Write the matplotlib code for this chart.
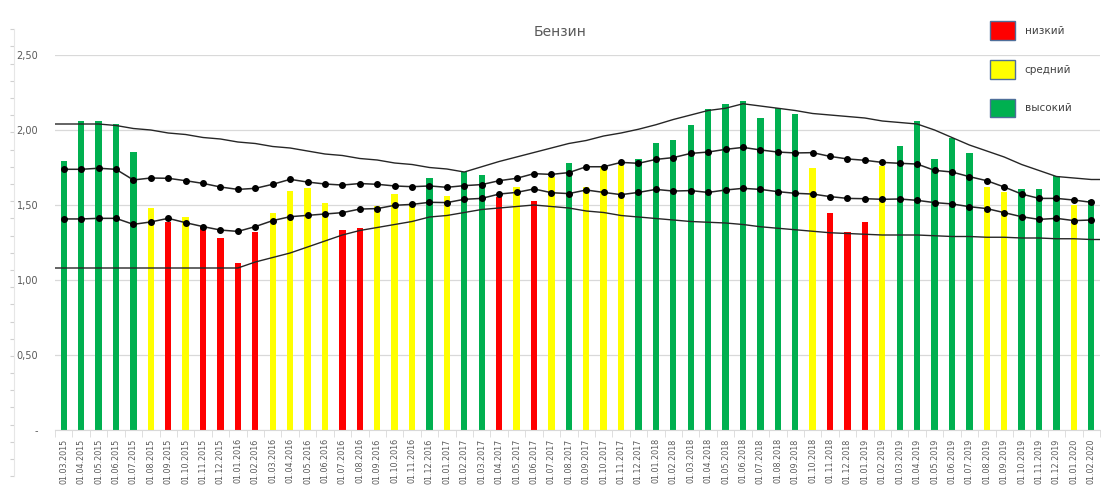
import numpy as np
import matplotlib
matplotlib.use("Agg")
import matplotlib.pyplot as plt
from matplotlib.patches import Patch
from matplotlib.ticker import FuncFormatter, FixedLocator

# months 01.03.2015 .. 01.02.2020
months = [f"01.{m:02d}.{y}" for y in range(2015, 2021) for m in range(1, 13)]
months = months[2:62]

price = [1.79, 2.06, 2.06, 2.04, 1.85, 1.48, 1.385, 1.42, 1.35, 1.28,
         1.113, 1.318, 1.447, 1.59, 1.61, 1.513, 1.335, 1.347, 1.495, 1.575,
         1.50, 1.678, 1.558, 1.722, 1.702, 1.551, 1.618, 1.527, 1.687, 1.782,
         1.618, 1.76, 1.765, 1.807, 1.911, 1.933, 2.036, 2.14, 2.171, 2.19,
         2.078, 2.149, 2.107, 1.747, 1.447, 1.32, 1.384, 1.762, 1.896, 2.062,
         1.807, 1.947, 1.849, 1.618, 1.587, 1.609, 1.609, 1.696, 1.50, 1.533]

# 0 - низкий, 1 - средний, 2 - высокий
level = [2, 2, 2, 2, 2, 1, 0, 1, 0, 0,
         0, 0, 1, 1, 1, 1, 0, 0, 1, 1,
         1, 2, 1, 2, 2, 0, 1, 0, 1, 2,
         1, 1, 1, 2, 2, 2, 2, 2, 2, 2,
         2, 2, 2, 1, 0, 0, 0, 1, 2, 2,
         2, 2, 2, 1, 1, 2, 2, 2, 1, 2]

upper_dots = [1.738, 1.738, 1.745, 1.738, 1.667, 1.68, 1.678, 1.662, 1.644, 1.62,
              1.604, 1.611, 1.638, 1.671, 1.653, 1.64, 1.633, 1.643, 1.638, 1.627,
              1.622, 1.627, 1.618, 1.629, 1.636, 1.662, 1.678, 1.709, 1.704, 1.716,
              1.755, 1.755, 1.784, 1.778, 1.804, 1.816, 1.844, 1.853, 1.871, 1.884,
              1.867, 1.853, 1.847, 1.849, 1.824, 1.807, 1.798, 1.784, 1.778, 1.773,
              1.731, 1.72, 1.689, 1.662, 1.62, 1.573, 1.544, 1.544, 1.533, 1.518]

lower_dots = [1.407, 1.407, 1.411, 1.411, 1.371, 1.387, 1.411, 1.382, 1.356, 1.333,
              1.324, 1.356, 1.396, 1.422, 1.431, 1.44, 1.449, 1.473, 1.476, 1.498,
              1.504, 1.518, 1.516, 1.538, 1.544, 1.573, 1.584, 1.607, 1.582, 1.576,
              1.60, 1.584, 1.569, 1.584, 1.604, 1.593, 1.596, 1.584, 1.60, 1.611,
              1.604, 1.589, 1.578, 1.573, 1.556, 1.544, 1.542, 1.538, 1.54, 1.531,
              1.516, 1.507, 1.489, 1.476, 1.449, 1.422, 1.404, 1.411, 1.396, 1.40]

upper_env = [2.04, 2.04, 2.04, 2.03, 2.01, 2.00, 1.98, 1.97, 1.95, 1.94,
             1.92, 1.91, 1.89, 1.88, 1.86, 1.84, 1.83, 1.81, 1.80, 1.78,
             1.77, 1.75, 1.74, 1.72, 1.755, 1.79, 1.82, 1.85, 1.88, 1.91,
             1.93, 1.96, 1.98, 2.005, 2.035, 2.07, 2.10, 2.13, 2.145, 2.175,
             2.16, 2.145, 2.13, 2.11, 2.10, 2.09, 2.08, 2.06, 2.05, 2.04,
             2.00, 1.95, 1.90, 1.86, 1.82, 1.77, 1.73, 1.69, 1.68, 1.67]

lower_env = [1.08, 1.08, 1.08, 1.08, 1.08, 1.08, 1.08, 1.08, 1.08, 1.08,
             1.08, 1.12, 1.15, 1.18, 1.22, 1.26, 1.30, 1.33, 1.35, 1.37,
             1.39, 1.42, 1.43, 1.45, 1.47, 1.48, 1.49, 1.50, 1.49, 1.48,
             1.46, 1.45, 1.43, 1.42, 1.41, 1.40, 1.39, 1.385, 1.38, 1.37,
             1.355, 1.345, 1.335, 1.325, 1.315, 1.31, 1.305, 1.30, 1.30, 1.30,
             1.295, 1.29, 1.29, 1.285, 1.285, 1.28, 1.28, 1.275, 1.275, 1.27]

level_names = ["низкий", "средний", "высокий"]
level_colors = ["#ff0000", "#ffff00", "#00b050"]

fig = plt.figure(figsize=(11.01, 4.86), dpi=100)
ax = fig.add_axes([55 / 1101, 56 / 486, 1045 / 1101, 375 / 486])

x = np.arange(len(months))
ax.bar(x, price, width=0.36, color=[level_colors[l] for l in level], zorder=2)

# envelopes run to the plot edges
xe = np.r_[-0.5, x, len(x) - 0.5]
ax.plot(xe, np.r_[upper_env[0], upper_env, upper_env[-1]], color="#262626", lw=1.0, zorder=3)
ax.plot(xe, np.r_[lower_env[0], lower_env, lower_env[-1]], color="#262626", lw=1.0, zorder=3)

ax.plot(x, upper_dots, color="#262626", lw=1.1, marker="o", ms=4, mfc="black", mec="black", zorder=4)
ax.plot(x, lower_dots, color="#262626", lw=1.1, marker="o", ms=4, mfc="black", mec="black", zorder=4)

ax.set_xlim(-0.5, len(x) - 0.5)
ax.set_ylim(0, 2.5)
ax.set_yticks([0, 0.5, 1.0, 1.5, 2.0, 2.5])
ax.yaxis.set_major_formatter(FuncFormatter(lambda v, p: "-" if v == 0 else f"{v:.2f}".replace(".", ",")))
ax.grid(axis="y", color="#d9d9d9", lw=0.9, zorder=0)
ax.tick_params(axis="y", length=0, labelsize=7, labelcolor="#595959", pad=12)

ax.set_xticks(x)
ax.set_xticklabels(months, rotation=90, fontsize=5.8, color="#595959")
ax.tick_params(axis="x", which="major", length=0, pad=6)
ax.xaxis.set_minor_locator(FixedLocator(np.r_[-0.5, x + 0.5]))
ax.tick_params(axis="x", which="minor", length=5, color="#d9d9d9")

for s in ["top", "right", "left"]:
    ax.spines[s].set_visible(False)
ax.spines["bottom"].set_color("#d9d9d9")

fig.text(0.509, 0.935, "Бензин", ha="center", va="center", fontsize=10, color="#595959")

handles = [Patch(facecolor=c, edgecolor="#4f6f9a", lw=1) for c in level_colors]
fig.legend(handles, level_names, loc="upper left", bbox_to_anchor=(981 / 1101, 1 - 12 / 486),
           frameon=False, fontsize=7.5, labelcolor="#404040",
           handlelength=2.4, handleheight=2.4, labelspacing=1.9, handletextpad=0.9)

# faint ruler on the far left
rul = fig.add_axes([14 / 1101, 0.02, 0.0005, 0.92])
rul.set_ylim(0, 26)
rul.set_yticks(np.arange(0, 27))
rul.set_xticks([])
rul.tick_params(axis="y", length=3, color="#d0d0d0", labelleft=False)
for s in ["top", "right", "bottom"]:
    rul.spines[s].set_visible(False)
rul.spines["left"].set_color("#e6e6e6")
rul.patch.set_visible(False)

fig.savefig("out.png", dpi=100)
